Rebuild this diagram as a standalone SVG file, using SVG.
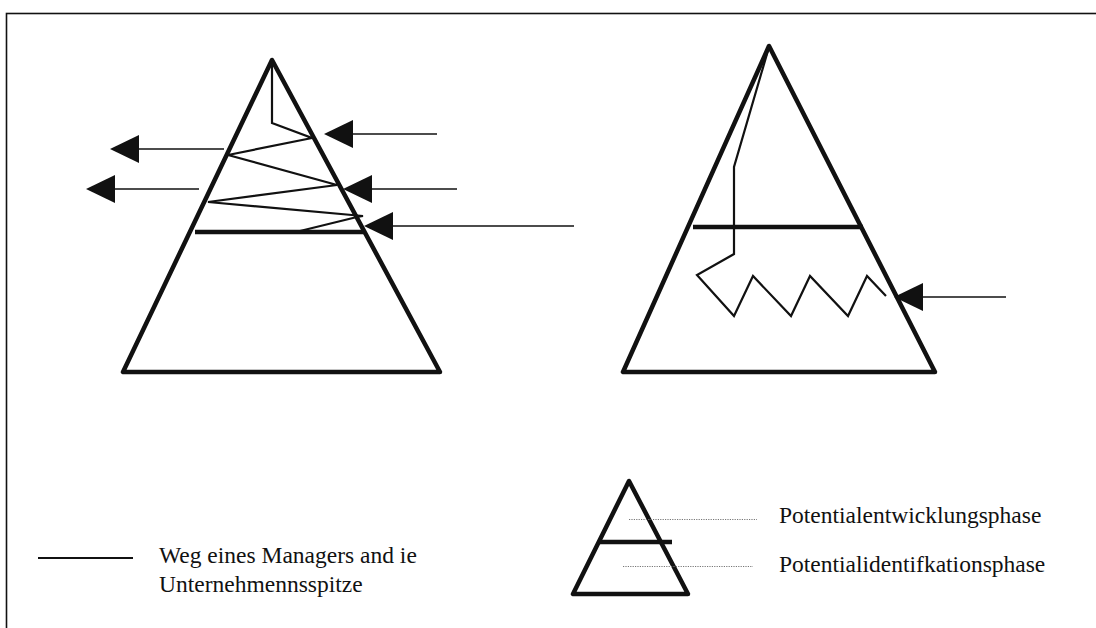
<svg xmlns="http://www.w3.org/2000/svg" width="1096" height="628" viewBox="0 0 1096 628">
<defs>
<marker id="ah" markerUnits="userSpaceOnUse" markerWidth="30" markerHeight="30" viewBox="0 0 29 30" refX="0" refY="15" orient="auto">
<path d="M0,1 L29,15 L0,29 Z" fill="#111"/>
</marker>
</defs>
<style>
.tri{fill:none;stroke:#111;stroke-width:4.5;stroke-linejoin:round;stroke-linecap:round}
.bar{stroke:#111;stroke-width:4.5}
.path{fill:none;stroke:#111;stroke-width:2.2;stroke-linejoin:miter}
.arr{stroke:#111;stroke-width:1.3;fill:none}
.dot{stroke:#777;stroke-width:1;stroke-dasharray:1.2 1.2}
.lbl{font-family:"Liberation Serif","Times New Roman",serif;font-size:23.5px;fill:#111}
</style>
<rect x="6.5" y="13.5" width="1200" height="700" fill="none" stroke="#111" stroke-width="1.6"/>
<g id="pyramid-left">
<polygon class="tri" points="272,60 123,372 440,372"/>
<line class="bar" x1="195" y1="232" x2="365" y2="232"/>
<polyline class="path" points="272,60 272,123 312,138 228,155 337,185 208,202 363,216 357,217 300,231"/>
</g>
<g id="pyramid-right">
<polygon class="tri" points="769,46 623,372 935,372"/>
<line class="bar" x1="693" y1="227" x2="863" y2="227"/>
<polyline class="path" points="769,47 734,167 734,254 697,275 734,316 753,276 791,316 810,276 848,316 867,276 886,296"/>
</g>
<g id="connectors">
<line class="arr" x1="437" y1="134" x2="353" y2="134" marker-end="url(#ah)"/>
<line class="arr" x1="224" y1="149" x2="139" y2="149" marker-end="url(#ah)"/>
<line class="arr" x1="199" y1="189" x2="115" y2="189" marker-end="url(#ah)"/>
<line class="arr" x1="457" y1="189" x2="372" y2="189" marker-end="url(#ah)"/>
<line class="arr" x1="574" y1="226" x2="393" y2="226" marker-end="url(#ah)"/>
<line class="arr" x1="1006" y1="297" x2="923" y2="297" marker-end="url(#ah)"/>
</g>
<g id="legend-path">
<line x1="38" y1="558" x2="133" y2="558" stroke="#111" stroke-width="2.2"/>
<text class="lbl" x="159" y="563">Weg eines Managers and ie</text>
<text class="lbl" x="159" y="592">Unternehmennsspitze</text>
</g>
<g id="legend-pyramid">
<polygon class="tri" points="629,481 573,594 688,594"/>
<line class="bar" x1="600" y1="542" x2="672" y2="542"/>
<line class="dot" x1="629" y1="519.5" x2="757" y2="519.5"/>
<line class="dot" x1="623" y1="566.5" x2="753" y2="566.5"/>
<text class="lbl" x="779" y="523">Potentialentwicklungsphase</text>
<text class="lbl" x="779" y="572">Potentialidentifkationsphase</text>
</g>
</svg>
